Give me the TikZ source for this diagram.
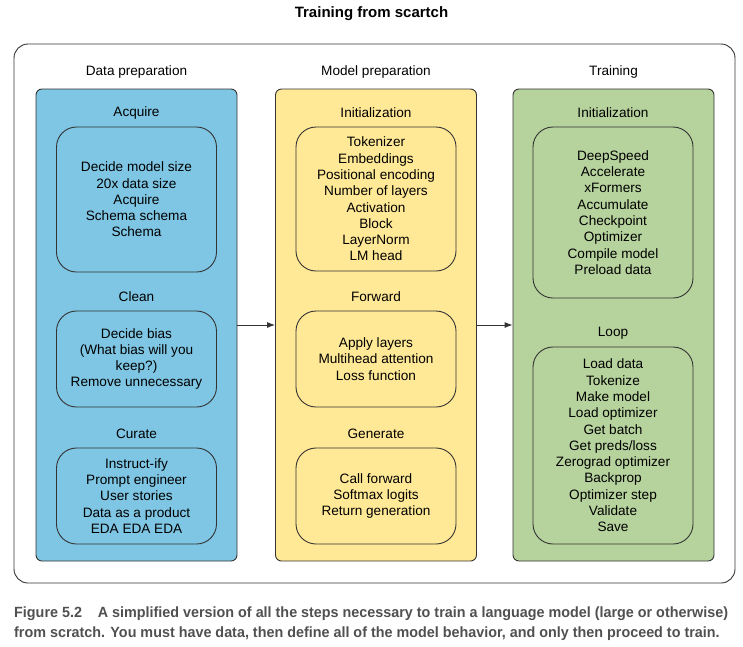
\documentclass[tikz,border=0pt]{standalone}
\usepackage{fontspec}
\usepackage{graphicx}
\setmainfont{Liberation Sans}
\usetikzlibrary{arrows.meta}
\definecolor{dataclr}{RGB}{126,198,228}
\definecolor{modelclr}{RGB}{255,233,150}
\definecolor{trainclr}{RGB}{182,210,157}
\definecolor{edgeclr}{RGB}{51,51,51}
\definecolor{capclr}{RGB}{80,80,80}
\newcommand\bodyfont{\fontsize{13.6}{16.3}\selectfont}
\tikzset{
	colbox/.style={draw=edgeclr, line width=0.9pt, rounded corners=6pt, minimum width=201pt, minimum height=472pt},
	stagebox/.style={draw=edgeclr, line width=0.9pt, rounded corners=20pt, minimum width=160pt, align=center, font=\bodyfont},
	stagelbl/.style={font=\bodyfont},
}
\begin{document}
\begin{tikzpicture}[x=1pt, y=-1pt, line join=round, >={Latex[length=8pt,width=6pt]}]
	\useasboundingbox (0,0) rectangle (743,646);
	\node[font=\fontsize{15}{18}\selectfont\bfseries] (title) at (371.5,14) {Training from scartch};
	\draw[edgeclr, line width=0.9pt, rounded corners=14pt] (14,44) rectangle (735,583);
	% the three columns
	\node[colbox, fill=dataclr] (data) at (136.5,325) {};
	\node[colbox, fill=modelclr] (model) at (376,325) {};
	\node[colbox, fill=trainclr] (train) at (613.5,325) {};
	\foreach \x/\c/\t in {136.5/data/Data preparation, 376/model/Model preparation, 613.5/train/Training}
		\node[stagelbl] (\c-head) at (\x,72) {\t};
	\draw[->, edgeclr, line width=0.9pt] (data) -- (model);
	\draw[->, edgeclr, line width=0.9pt] (model) -- (train);
	% data preparation
	\node[stagelbl] (acquire-lbl) at (136.5,113) {Acquire};
	\node[stagebox, minimum height=145pt] (acquire) at (136.5,199.5) {Decide model size\\20x data size\\Acquire\\Schema schema\\Schema};
	\node[stagelbl] (clean-lbl) at (136.5,297) {Clean};
	\node[stagebox, minimum height=96pt] (clean) at (136.5,359) {Decide bias\\(What bias will you\\keep?)\\Remove unnecessary};
	\node[stagelbl] (curate-lbl) at (136.5,434) {Curate};
	\node[stagebox, minimum height=96pt] (curate) at (136.5,496) {Instruct-ify\\Prompt engineer\\User stories\\Data as a product\\EDA EDA EDA};
	% model preparation
	\node[stagelbl] (minit-lbl) at (376,113) {Initialization};
	\node[stagebox, minimum height=144pt] (minit) at (376,199) {Tokenizer\\Embeddings\\Positional encoding\\Number of layers\\Activation\\Block\\LayerNorm\\LM head};
	\node[stagelbl] (forward-lbl) at (376,297) {Forward};
	\node[stagebox, minimum height=96pt] (forward) at (376,359) {Apply layers\\Multihead attention\\Loss function};
	\node[stagelbl] (generate-lbl) at (376,434) {Generate};
	\node[stagebox, minimum height=96pt] (generate) at (376,496) {Call forward\\Softmax logits\\Return generation};
	% training
	\node[stagelbl] (tinit-lbl) at (613,113) {Initialization};
	\node[stagebox, minimum height=171pt] (tinit) at (613,212.5) {DeepSpeed\\Accelerate\\xFormers\\Accumulate\\Checkpoint\\Optimizer\\Compile model\\Preload data};
	\node[stagelbl] (loop-lbl) at (613,333) {Loop};
	\node[stagebox, minimum height=197pt] (loop) at (613,445.5) {Load data\\Tokenize\\Make model\\Load optimizer\\Get batch\\Get preds/loss\\Zerograd optimizer\\Backprop\\Optimizer step\\Validate\\Save};
	% caption
	\node[anchor=base west, inner sep=0pt, text=capclr, font=\bfseries\fontsize{14.8}{20}\selectfont] (caption) at (14,617)
		{\scalebox{0.97}[1]{\begin{tabular}[t]{@{}l@{}}Figure 5.2\hspace{1.1em}A simplified version of all the steps necessary to train a language model (large or otherwise)\\from scratch. You must have data, then define all of the model behavior, and only then proceed to train.\end{tabular}}};
\end{tikzpicture}
\end{document}
